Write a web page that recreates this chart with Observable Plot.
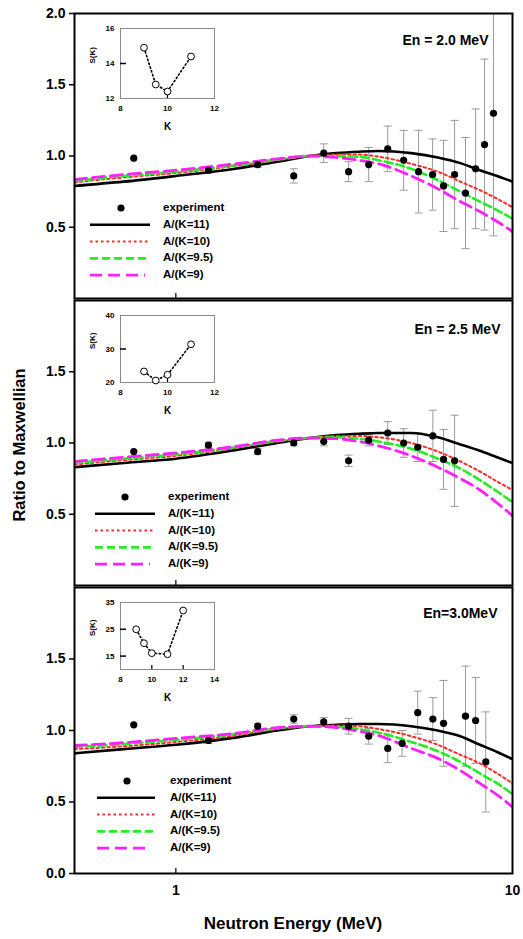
<!DOCTYPE html>
<html><head><meta charset="utf-8">
<script src="https://cdn.jsdelivr.net/npm/d3@7"></script>
<script src="https://cdn.jsdelivr.net/npm/@observablehq/plot@0.6"></script>
<style>
body{margin:0;background:#fff}
#c{position:relative;width:523px;height:939px;overflow:hidden;font-family:Arial,"Liberation Sans",sans-serif}
#c svg{position:absolute}
</style></head>
<body><div id="c"></div>
<script>
// ---------- data ----------
const energies = [0.5, 0.7, 1, 1.5, 2, 2.5, 3, 3.5, 4, 5, 6, 7, 8, 9, 10];

// En = 2.0 MeV
const k11_20 = [0.79, 0.82, 0.86, 0.91, 0.96, 1.0, 1.02, 1.03, 1.035, 1.02, 0.99, 0.95, 0.90, 0.86, 0.82];
const k10_20 = [0.815, 0.85, 0.88, 0.93, 0.97, 1.0, 1.01, 1.01, 0.995, 0.945, 0.89, 0.82, 0.76, 0.70, 0.64];
const k95_20 = [0.825, 0.86, 0.89, 0.935, 0.975, 1.0, 1.0, 0.995, 0.97, 0.91, 0.83, 0.75, 0.68, 0.62, 0.56];
const k9_20  = [0.835, 0.87, 0.90, 0.945, 0.98, 1.0, 0.99, 0.97, 0.945, 0.86, 0.77, 0.68, 0.61, 0.54, 0.47];
const expE_20 = [0.75, 1.25, 1.75, 2.24, 2.75, 3.26, 3.74, 4.26, 4.75, 5.26, 5.79, 6.24, 6.73, 7.25, 7.77, 8.26, 8.78];
const expR_20 = [0.985, 0.90, 0.94, 0.86, 1.02, 0.89, 0.94, 1.05, 0.97, 0.89, 0.87, 0.79, 0.87, 0.74, 0.91, 1.08, 1.30];
const expErr_20 = [0, 0.02, 0.02, 0.05, 0.065, 0.07, 0.12, 0.16, 0.21, 0.29, 0.25, 0.32, 0.38, 0.39, 0.42, 0.60, 0.86];

// En = 2.5 MeV
const k11_25 = [0.83, 0.86, 0.89, 0.95, 1.0, 1.035, 1.055, 1.065, 1.07, 1.07, 1.04, 0.99, 0.945, 0.90, 0.86];
const k10_25 = [0.85, 0.88, 0.91, 0.965, 1.01, 1.035, 1.05, 1.05, 1.04, 1.0, 0.94, 0.87, 0.80, 0.73, 0.67];
const k95_25 = [0.86, 0.89, 0.92, 0.97, 1.015, 1.035, 1.04, 1.03, 1.01, 0.96, 0.89, 0.82, 0.74, 0.66, 0.585];
const k9_25  = [0.87, 0.90, 0.93, 0.975, 1.02, 1.035, 1.03, 1.01, 0.98, 0.91, 0.83, 0.75, 0.67, 0.58, 0.49];
const expE_25 = [0.75, 1.25, 1.75, 2.24, 2.75, 3.26, 3.74, 4.26, 4.75, 5.23, 5.8, 6.24, 6.73];
const expR_25 = [0.94, 0.985, 0.94, 1.0, 1.01, 0.875, 1.02, 1.07, 1.0, 0.97, 1.05, 0.885, 0.875];
const expErr_25 = [0.01, 0.02, 0.02, 0.02, 0.03, 0.04, 0.04, 0.08, 0.10, 0.10, 0.18, 0.21, 0.32];

// En = 3.0 MeV
const k11_30 = [0.84, 0.87, 0.90, 0.95, 1.0, 1.03, 1.04, 1.045, 1.045, 1.03, 1.0, 0.96, 0.90, 0.85, 0.80];
const k10_30 = [0.87, 0.89, 0.92, 0.965, 1.01, 1.03, 1.035, 1.03, 1.01, 0.96, 0.90, 0.83, 0.77, 0.70, 0.63];
const k95_30 = [0.885, 0.905, 0.935, 0.975, 1.015, 1.03, 1.025, 1.01, 0.985, 0.92, 0.855, 0.78, 0.70, 0.63, 0.555];
const k9_30  = [0.895, 0.915, 0.945, 0.98, 1.02, 1.03, 1.02, 0.995, 0.965, 0.875, 0.805, 0.72, 0.63, 0.55, 0.465];
const expE_30 = [0.75, 1.25, 1.75, 2.24, 2.75, 3.26, 3.74, 4.26, 4.7, 5.23, 5.8, 6.24, 7.25, 7.77, 8.33];
const expR_30 = [1.04, 0.93, 1.03, 1.08, 1.06, 1.03, 0.96, 0.875, 0.91, 1.125, 1.08, 1.05, 1.10, 1.07, 0.78];
const expErr_30 = [0.01, 0.02, 0.02, 0.03, 0.03, 0.055, 0.055, 0.10, 0.09, 0.15, 0.15, 0.30, 0.35, 0.30, 0.35];

// insets S(K)
const kVals_20 = [9, 9.5, 10, 11];
const sVals_20 = [14.9, 12.8, 12.4, 14.4];
const kVals_25 = [9, 9.5, 10, 11];
const sVals_25 = [23.3, 20.6, 22.3, 31.4];
const kVals_30 = [9, 9.5, 10, 11, 12];
const sVals_30 = [25, 19.8, 16.1, 15.7, 32];

const panelLabels = ["En = 2.0 MeV", "En = 2.5 MeV", "En=3.0MeV"];
const legendLabels = ["experiment", "A/(K=11)", "A/(K=10)", "A/(K=9.5)", "A/(K=9)"];
const xTickValues = [1, 10];

// ---------- styles ----------
const FONT = "Arial, 'Liberation Sans', sans-serif";
const seriesStyle = [
  {stroke: "black", strokeWidth: 2.6, dash: null},
  {stroke: "#ff2a2a", strokeWidth: 2, dash: "2.5,3"},
  {stroke: "#22ee22", strokeWidth: 2.6, dash: "8,4"},
  {stroke: "#ff20ff", strokeWidth: 2.8, dash: "12,6"}
];
const capSymbol = {draw(ctx, size) { const w = Math.sqrt(size / Math.PI); ctx.moveTo(-w, 0); ctx.lineTo(w, 0); }};

const root = document.getElementById("c");

function panel(cfg) {
  const frameH = cfg.frameBottom - cfg.frameTop;
  const mt = cfg.mt, mb = cfg.showX ? 30 : 2;
  const series = cfg.curves.map(vals => energies.map((E, i) => ({E, r: vals[i]})));
  const exp = cfg.expE.map((E, i) => ({E, r: cfg.expR[i], e: cfg.expErr[i]}));
  const bars = exp.filter(d => d.e > 0.015);
  const marks = [
    Plot.axisY({ticks: cfg.yTicks, tickFormat: d3.format(".1f"), tickSize: 5, tickPadding: 4, label: null, fontSize: 14, fontWeight: "bold", strokeWidth: 1.5}),
    Plot.tickX([1], {x: d => d, insetTop: frameH - 5, stroke: "black", strokeWidth: 1.2}),
    Plot.ruleX(bars, {x: "E", y1: d => d.r - d.e, y2: d => d.r + d.e, stroke: "#9a9a9a", strokeWidth: 1, clip: true}),
    Plot.dot(bars, {x: "E", y: d => d.r + d.e, symbol: capSymbol, r: 4, stroke: "#9a9a9a", strokeWidth: 1, clip: true}),
    Plot.dot(bars, {x: "E", y: d => d.r - d.e, symbol: capSymbol, r: 4, stroke: "#9a9a9a", strokeWidth: 1, clip: true}),
    ...series.map((s, i) => Plot.line(s, {x: "E", y: "r", curve: "monotone-x", stroke: seriesStyle[i].stroke, strokeWidth: seriesStyle[i].strokeWidth, strokeDasharray: seriesStyle[i].dash, clip: true})),
    Plot.dot(exp, {x: "E", y: "r", r: 3.6, fill: "black"}),
    Plot.text([cfg.label], {text: d => d, frameAnchor: "top-right", dx: cfg.labelDx, dy: cfg.labelDy, textAnchor: "end", lineAnchor: "middle", fontSize: 14, fontWeight: "bold"}),
    Plot.frame({stroke: "black", strokeWidth: 2})
  ];
  if (cfg.showX) marks.push(Plot.axisX({ticks: xTickValues, tickSize: 0, tickPadding: 12, tickFormat: d => String(d), label: null, fontSize: 14, fontWeight: "bold"}));
  const svg = Plot.plot({
    width: 523, height: mt + frameH + mb,
    marginLeft: 74, marginRight: 11, marginTop: mt, marginBottom: mb,
    x: {type: "log", domain: [0.5, 10], axis: null},
    y: {domain: [0, 2], axis: null},
    style: {background: "transparent", fontFamily: FONT, fontWeight: "bold", color: "black"},
    marks
  });
  svg.style.left = "0px";
  svg.style.top = (cfg.frameTop - mt) + "px";
  root.appendChild(svg);
}

function inset(cfg) {
  const ml = 36, mr = 12, mt = 8, mb = 36;
  const fw = 94, fh = cfg.frameBottom - cfg.frameTop;
  const pts = cfg.k.map((k, i) => ({k, s: cfg.s[i]}));
  const intFmt = d3.format("d");
  const svg = Plot.plot({
    width: ml + fw + mr, height: mt + fh + mb,
    marginLeft: ml, marginRight: mr, marginTop: mt, marginBottom: mb,
    x: {domain: cfg.xDomain, axis: null},
    y: {domain: cfg.yDomain, axis: null},
    style: {background: "transparent", fontFamily: FONT, fontWeight: "bold", color: "black"},
    marks: [
      Plot.frame({stroke: "#8a8a8a", strokeWidth: 1}),
      Plot.axisY({ticks: cfg.yTicks, tickFormat: intFmt, tickSize: 0, tickPadding: 6, label: null, fontSize: 8, fontWeight: "bold"}),
      Plot.axisX({ticks: cfg.xTicks, tickFormat: intFmt, tickSize: 0, tickPadding: 7, label: null, fontSize: 8, fontWeight: "bold"}),
      Plot.tickY(cfg.innerY, {y: d => d, insetRight: fw - 6, stroke: "black", strokeWidth: 1.5}),
      Plot.tickX(cfg.innerX, {x: d => d, insetTop: fh - 4, stroke: "black", strokeWidth: 1.2}),
      Plot.line(pts, {x: "k", y: "s", stroke: "black", strokeWidth: 1.6, strokeDasharray: "1.5,2.5"}),
      Plot.dot(pts, {x: "k", y: "s", r: 3.4, stroke: "black", strokeWidth: 1, fill: "white"}),
      Plot.text(["K"], {text: d => d, frameAnchor: "bottom", dy: 28, lineAnchor: "middle", fontSize: 10, fontWeight: "bold"}),
      Plot.text(["S(K)"], {text: d => d, frameAnchor: "left", dx: -28, rotate: -90, lineAnchor: "middle", fontSize: 8, fontWeight: "bold"})
    ]
  });
  svg.style.left = (120 - ml) + "px";
  svg.style.top = (cfg.frameTop - mt) + "px";
  root.appendChild(svg);
}

panel({frameTop: 13, frameBottom: 298, mt: 13, yTicks: [0.5, 1, 1.5, 2], curves: [k11_20, k10_20, k95_20, k9_20],
  expE: expE_20, expR: expR_20, expErr: expErr_20, label: panelLabels[0], labelDx: -24, labelDy: 27, showX: false});
panel({frameTop: 300, frameBottom: 585, mt: 2, yTicks: [0.5, 1, 1.5], curves: [k11_25, k10_25, k95_25, k9_25],
  expE: expE_25, expR: expR_25, expErr: expErr_25, label: panelLabels[1], labelDx: -12, labelDy: 29, showX: false});
panel({frameTop: 587, frameBottom: 873, mt: 2, yTicks: [0, 0.5, 1, 1.5], curves: [k11_30, k10_30, k95_30, k9_30],
  expE: expE_30, expR: expR_30, expErr: expErr_30, label: panelLabels[2], labelDx: -15, labelDy: 26, showX: true});

inset({frameTop: 28, frameBottom: 98, xDomain: [8, 12], xTicks: [8, 10, 12], innerX: [10], yDomain: [12, 16], yTicks: [12, 14, 16], innerY: [14], k: kVals_20, s: sVals_20});
inset({frameTop: 315, frameBottom: 382, xDomain: [8, 12], xTicks: [8, 10, 12], innerX: [10], yDomain: [20, 40], yTicks: [20, 30, 40], innerY: [30], k: kVals_25, s: sVals_25});
inset({frameTop: 602, frameBottom: 669, xDomain: [8, 14], xTicks: [8, 10, 12, 14], innerX: [10, 12], yDomain: [10, 35], yTicks: [15, 25, 35], innerY: [15, 25], k: kVals_30, s: sVals_30});

// ---------- overlay: titles and legends ----------
const ov = d3.select(root).append("svg").attr("width", 523).attr("height", 939)
  .style("left", "0px").style("top", "0px").style("font-family", FONT).style("font-weight", "bold");
ov.append("text").attr("transform", "translate(21,445) rotate(-90)").attr("text-anchor", "middle")
  .attr("dominant-baseline", "middle").attr("font-size", 16.5).text("Ratio to Maxwellian");
ov.append("text").attr("x", 293).attr("y", 925).attr("text-anchor", "middle")
  .attr("dominant-baseline", "middle").attr("font-size", 17).text("Neutron Energy (MeV)");

const legendPos = [
  {mx: 121, x1: 90, x2: 150, tx: 163, y0: 208},
  {mx: 125, x1: 95, x2: 155, tx: 168, y0: 497},
  {mx: 127, x1: 97, x2: 155, tx: 170, y0: 781}
];
legendPos.forEach(p => {
  const g = ov.append("g");
  legendLabels.forEach((lab, i) => {
    const y = p.y0 + i * 16.8;
    if (i === 0) g.append("circle").attr("cx", p.mx).attr("cy", y).attr("r", 3.6).attr("fill", "black");
    else {
      const s = seriesStyle[i - 1];
      g.append("line").attr("x1", p.x1).attr("x2", i === 4 ? p.x2 - 5 : p.x2).attr("y1", y).attr("y2", y)
        .attr("stroke", s.stroke).attr("stroke-width", s.strokeWidth).attr("stroke-dasharray", s.dash);
    }
    g.append("text").attr("x", p.tx).attr("y", y).attr("dominant-baseline", "middle")
      .attr("font-size", 11.5).text(lab);
  });
});
</script></body></html>
